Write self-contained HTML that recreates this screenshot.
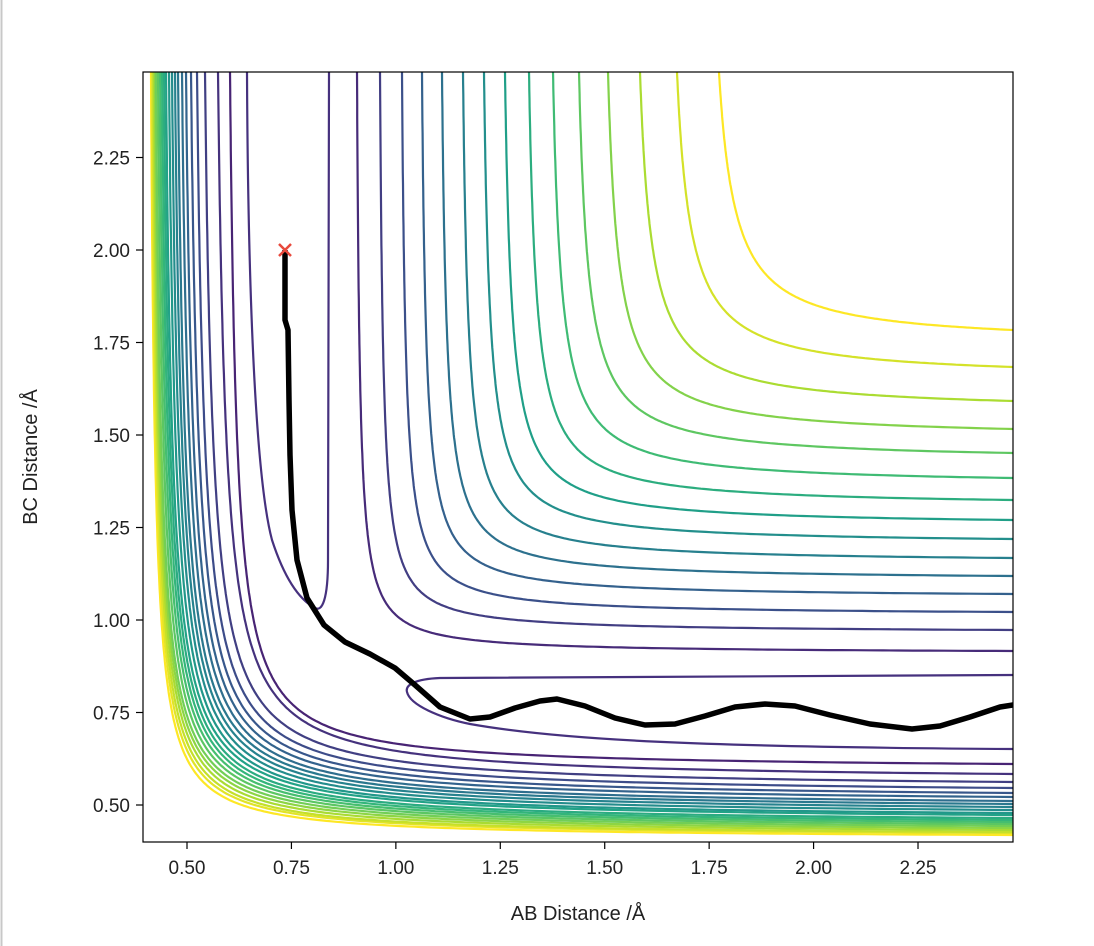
<!DOCTYPE html>
<html><head><meta charset="utf-8"><style>
html,body{margin:0;padding:0;background:#fff;}
svg{display:block;font-family:"Liberation Sans","DejaVu Sans",sans-serif;}
</style></head><body>
<svg id="s" width="1094" height="946" viewBox="0 0 1094 946" xmlns="http://www.w3.org/2000/svg">
<rect width="1094" height="946" fill="#fff"/>
<line x1="1.5" y1="0" x2="1.5" y2="946" stroke="#c8c8c8" stroke-width="2"/>
<defs><clipPath id="cp"><rect x="143" y="72" width="870" height="770"/></clipPath></defs>
<g id="cont" clip-path="url(#cp)" fill="none" stroke-width="2.2"></g>
<g clip-path="url(#cp)" fill="none" stroke-width="2.2">
<path d="M329,72 L328,560 C328,600 322,612 315,608 C300,600 285,580 272,540 C256,480 248,300 247,72" stroke="#46317e"/>
<path d="M1013,675 L440,678 C415,679 405,685 407,692 C410,705 440,718 470,724 C560,740 700,747 1013,749" stroke="#46317e"/>
<path id="traj" d="M285,250 L285,320 L288,330 L289,400 L290,455 L292,510 L297,560 L307,598 L324,625 L345,642 L370,654 L395,668 L415,685 L440,707 L470,719 L490,717 L515,708 L540,701 L557,699 L585,706 L615,718 L645,725 L675,724 L705,716 L735,707 L765,704 L795,706 L830,715 L870,724 L912,729 L940,726 L970,717 L1000,707 L1013,705" stroke="#000" stroke-width="5.5" stroke-linejoin="round"/>
<path d="M279,244 L291,256 M291,244 L279,256" stroke="#e8493c" stroke-width="2.5"/>
</g>
<rect x="143" y="72" width="870" height="770" fill="none" stroke="#000" stroke-width="1.2"/>
<g id="ticks" stroke="#000" stroke-width="1.2"></g>
<g id="lab" font-size="19" fill="#222"></g>
<text x="578" y="920" font-size="20" text-anchor="middle" fill="#222">AB Distance /Å</text>
<text transform="translate(37,457) rotate(-90)" font-size="20" text-anchor="middle" fill="#222">BC Distance /Å</text>
</svg>
<script>
function vir(t){
 var c=[[68,1,84],[72,40,120],[62,74,137],[49,104,142],[38,130,142],[31,158,137],[53,183,121],[109,205,89],[180,222,44],[253,231,37]];
 t=Math.max(0,Math.min(1,t));var f=t*9,i=Math.min(8,Math.floor(f)),r=f-i;
 var a=c[i],b=c[i+1];return 'rgb('+[0,1,2].map(function(k){return Math.round(a[k]+(b[k]-a[k])*r)}).join(',')+')';
}
var g=document.getElementById('cont'),ns='http://www.w3.org/2000/svg';
function hyp(xv,yh,C,col){
 var A=xv-10,B=yh+5;
 for(var it=0;it<30;it++){A=xv-C/(B-72);B=yh+C/(1013-A);}
 var x0=A+C/(B-72),x1=1013,d='';
 var ratio=(x1-A)/(x0-A);
 for(var i=0;i<=200;i++){var x=A+(x0-A)*Math.pow(ratio,i/200);var y=B-C/(x-A);d+=(i?'L':'M')+x.toFixed(1)+','+y.toFixed(1);}
 var p=document.createElementNS(ns,'path');p.setAttribute('d',d);p.setAttribute('stroke',col);g.appendChild(p);
}
var uv=[357,380,402,422,442,463,484,505,529,553,579,608,640,677,719];
var uh=[651,630,612,594,576,558,539,520,500,478,453,429,401,367,330];
for(var i=0;i<uv.length;i++){hyp(uv[i],uh[i],1600+i*200,vir(0.12+0.88*i/(uv.length-1)));}
var lv=[230,218,205,197,191,186,182,178,175,172,169,166,164,162,160,158,156,155,154,153,152,151];
var lh=[764,774,782,788,793,797,801,804,807,810,813,815,818,820,822,824,826,828,830,832,833,835];
for(var i=lv.length-1;i>=0;i--){var f=i/(lv.length-1);var C=i==0?4500:5600-2400*f*f;hyp(lv[i],lh[i],C,vir(0.1+0.9*f));}
var t=document.getElementById('ticks'),l=document.getElementById('lab');
var xl=['0.50','0.75','1.00','1.25','1.50','1.75','2.00','2.25'];
for(var i=0;i<8;i++){var x=187+104.43*i;
 var ln=document.createElementNS(ns,'line');ln.setAttribute('x1',x);ln.setAttribute('x2',x);ln.setAttribute('y1',842);ln.setAttribute('y2',849);t.appendChild(ln);
 var tx=document.createElementNS(ns,'text');tx.setAttribute('x',x);tx.setAttribute('y',874);tx.setAttribute('text-anchor','middle');tx.textContent=xl[i];l.appendChild(tx);}
var yl=['0.50','0.75','1.00','1.25','1.50','1.75','2.00','2.25'];
for(var i=0;i<8;i++){var y=805-92.5*i;
 var ln=document.createElementNS(ns,'line');ln.setAttribute('x1',136);ln.setAttribute('x2',143);ln.setAttribute('y1',y);ln.setAttribute('y2',y);t.appendChild(ln);
 var tx=document.createElementNS(ns,'text');tx.setAttribute('x',130);tx.setAttribute('y',y+7);tx.setAttribute('text-anchor','end');tx.textContent=yl[i];l.appendChild(tx);}
</script>
</body></html>
